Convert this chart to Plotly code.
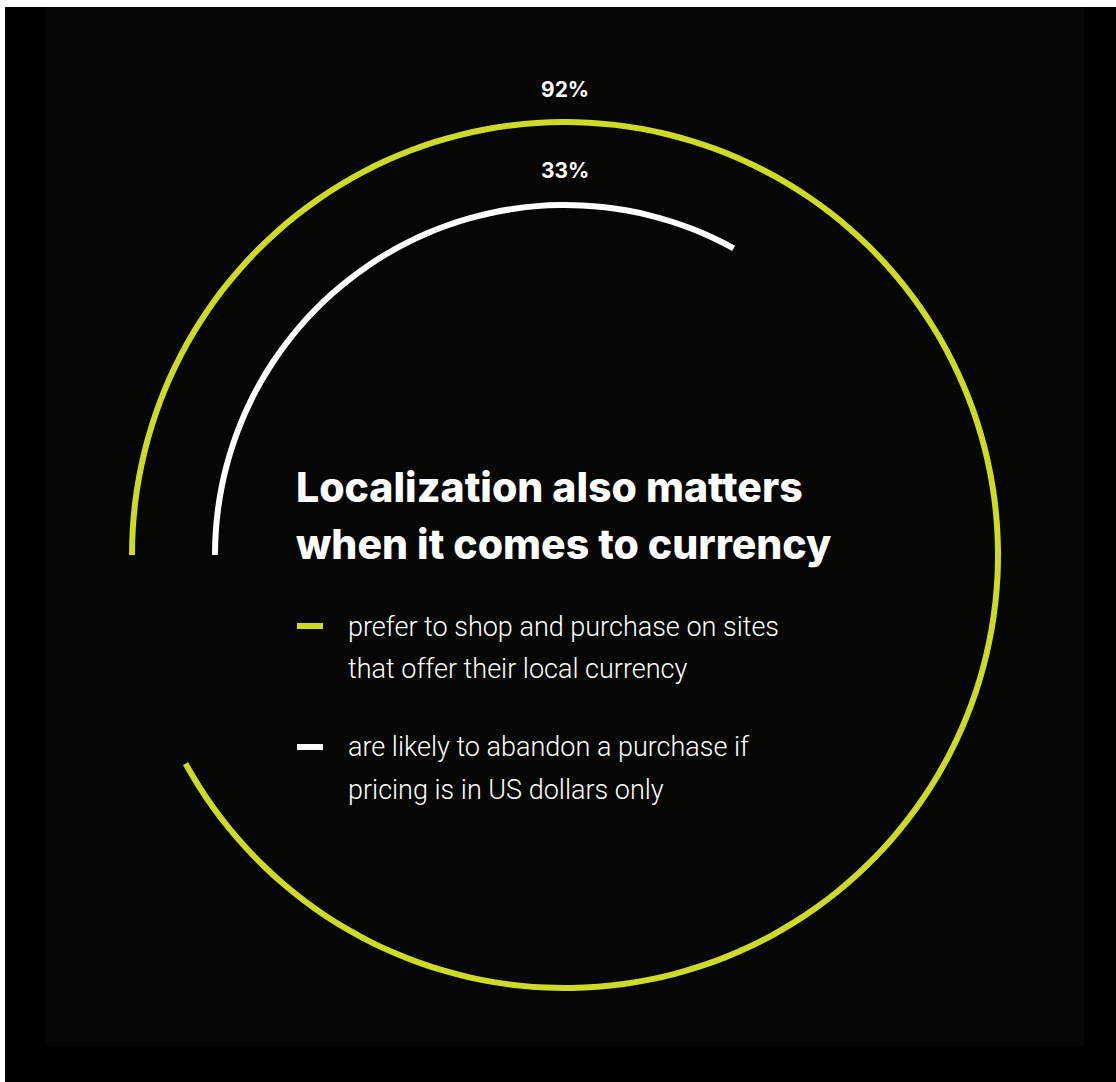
import plotly.graph_objects as go

# ---- data ----
series_labels = [["prefer to shop and purchase on sites", "that offer their local currency"],
                 ["are likely to abandon a purchase if", "pricing is in US dollars only"]]
series_values = [92, 33]          # percent
series_colors = ["#cddb27", "#ffffff"]
title_lines = ["Localization also matters", "when it comes to currency"]

W, H = 1116, 1082
CX, CY, R = 565, 555, 440          # pixel centre / radius of polar area
ring_radii = [430, 347]            # inner edge of each ring (radial units = px)
ring_thick = 6

def px(x):
    return x / W

def py(y):
    return 1 - y / H

fig = go.Figure()
for v, c, b in zip(series_values, series_colors, ring_radii):
    fig.add_trace(go.Barpolar(
        r=[ring_thick], base=[b], theta=[v * 3.6 / 2], width=[v * 3.6],
        marker=dict(color=c, line=dict(width=0)),
        hoverinfo="skip", showlegend=False,
    ))

fig.update_layout(
    width=W, height=H,
    margin=dict(l=0, r=0, t=0, b=0),
    paper_bgcolor="#ffffff",
    plot_bgcolor="rgba(0,0,0,0)",
    showlegend=False,
    polar=dict(
        domain=dict(x=[px(CX - R), px(CX + R)], y=[py(CY + R), py(CY - R)]),
        bgcolor="rgba(0,0,0,0)",
        radialaxis=dict(range=[0, R], visible=False, showgrid=False),
        angularaxis=dict(visible=False, rotation=180, direction="clockwise",
                         showgrid=False),
        hole=0,
    ),
    shapes=[
        dict(type="rect", xref="paper", yref="paper", x0=px(5), x1=1, y0=0, y1=py(7),
             fillcolor="#000000", line=dict(width=0), layer="below"),
        dict(type="rect", xref="paper", yref="paper", x0=px(45), x1=px(1084),
             y0=py(1046), y1=py(7), fillcolor="#060604", line=dict(width=0), layer="below"),
        dict(type="rect", xref="paper", yref="paper", x0=px(297), x1=px(323),
             y0=py(629), y1=py(623), fillcolor=series_colors[0], line=dict(width=0)),
        dict(type="rect", xref="paper", yref="paper", x0=px(297), x1=px(323),
             y0=py(750), y1=py(744), fillcolor=series_colors[1], line=dict(width=0)),
    ],
)

annotations = []
for v, ypix in zip(series_values, [90, 170]):
    annotations.append(dict(
        text=f"{v}%", x=px(CX), y=py(ypix), xref="paper", yref="paper",
        showarrow=False, xanchor="center", yanchor="middle",
        font=dict(family="Inter", size=21, color="#ffffff", weight=700)))

for line, ymid in zip(title_lines, [487, 544]):
    annotations.append(dict(
        text=line, x=px(294), y=py(ymid), xref="paper", yref="paper",
        showarrow=False, xanchor="left", yanchor="middle", align="left",
        font=dict(family="Inter", size=41, color="#ffffff", weight=800)))

for lines, ys in zip(series_labels, [[627, 669], [747, 790]]):
    for line, ymid in zip(lines, ys):
        annotations.append(dict(
            text=line, x=px(346), y=py(ymid), xref="paper", yref="paper",
            showarrow=False, xanchor="left", yanchor="middle", align="left",
            font=dict(family="Roboto", size=27, color="#ffffff", weight=300)))

fig.update_layout(annotations=annotations)
fig.write_html("out.html",
               config={"displayModeBar": False},
               post_script="document.body.style.margin='0';document.body.style.padding='0';")
